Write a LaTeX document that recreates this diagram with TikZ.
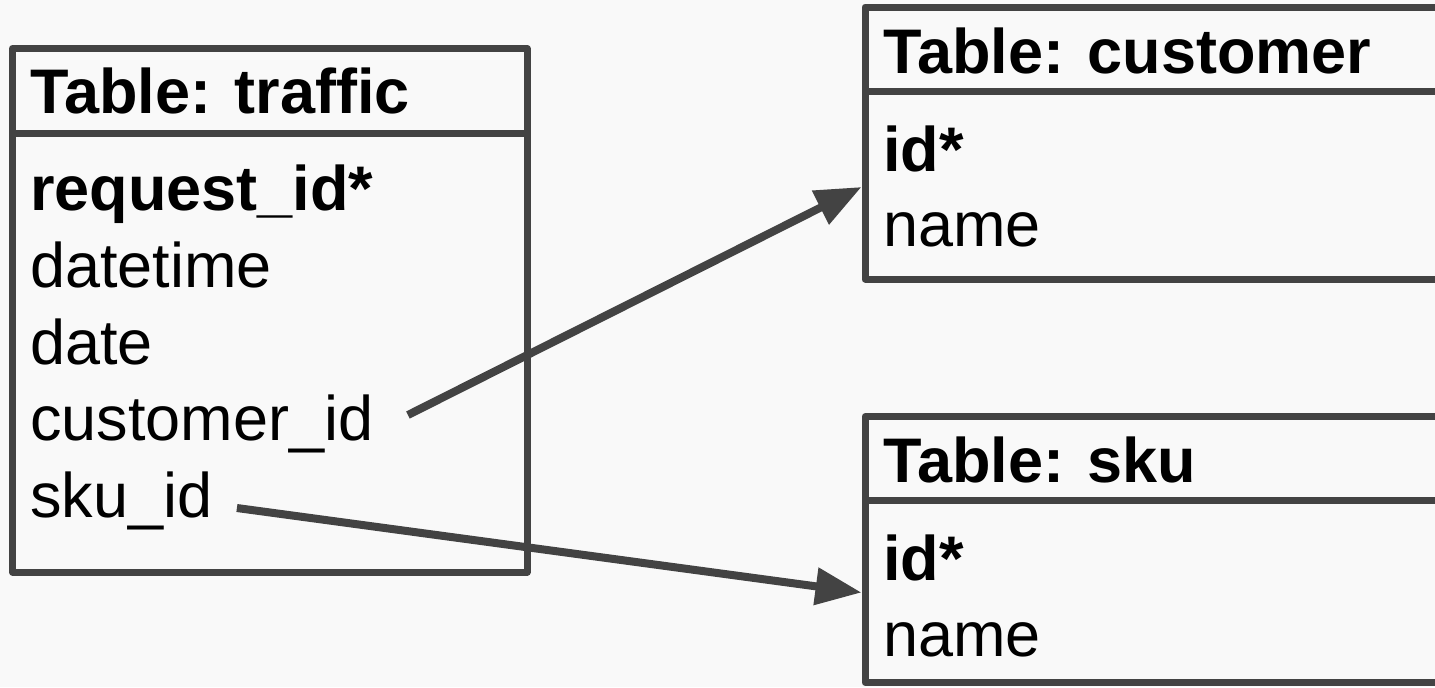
\documentclass[tikz,border=0pt]{standalone}
\usepackage{fontspec}
\setmainfont{Liberation Sans}
\usetikzlibrary{arrows.meta,calc,fit}
\definecolor{bg}{HTML}{F9F9F9}
\definecolor{edge}{HTML}{434343}
\begin{document}
\begin{tikzpicture}[x=0.5pt,y=-0.5pt,
  tablebox/.style={draw=edge, line width=3.5pt, fill=bg, rectangle, inner sep=0pt, outer sep=0pt, line join=round},
  divider/.style={draw=edge, line width=3.5pt},
  hdr/.style={anchor=base west, inner sep=0pt, font=\fontsize{31.5}{38.5}\selectfont\bfseries},
  field/.style={anchor=base west, inner sep=0pt, font=\fontsize{31.5}{38.5}\selectfont},
  keyfield/.style={anchor=base west, inner sep=0pt, font=\fontsize{31.5}{38.5}\selectfont\bfseries},
  link/.style={draw=edge, line width=4pt, -{Triangle[length=23pt,width=18pt]}}
]
\useasboundingbox (0,0) rectangle (1435,687);
\fill[bg] (0,0) rectangle (1435,687);
\clip (0,0) rectangle (1435,687);

% Table: traffic
\node[tablebox, fit={(12.5,48.5) (527,572)}] (traffic) {};
\draw[divider] (traffic.west |- 0,133) -- (traffic.east |- 0,133);
\node[hdr] (thead) at (30,113) {Table: traffic};
\node[keyfield] (rid) at (30,210) {request\_id*};
\node[field] (dt) at (30,287) {datetime};
\node[field] (dd) at (30,364) {date};
\node[field] (cid) at (30,440) {customer\_id};
\node[field] (sid) at (30,517) {sku\_id};

% Table: customer
\node[tablebox, fit={(865,7) (1480,279)}] (cust) {};
\draw[divider] (cust.west |- 0,91.5) -- (cust.east |- 0,91.5);
\node[hdr] (chead) at (883,73) {Table: customer};
\node[keyfield] (cidk) at (883,171) {id*};
\node[field] (cname) at (883,246) {name};

% Table: sku
\node[tablebox, fit={(865,416.5) (1480,682.5)}] (sku) {};
\draw[divider] (sku.west |- 0,500.5) -- (sku.east |- 0,500.5);
\node[hdr] (shead) at (883,482) {Table: sku};
\node[keyfield] (sidk) at (883,580) {id*};
\node[field] (sname) at (883,656) {name};

% links
\coordinate (c1) at ($(cid.base east)+(34,-25)$);
\coordinate (c2) at ($(sid.base east)+(24,-9)$);
\draw[link] (c1) -- ($(cust.west)+(-3.5,44)$);
\draw[link] (c2) -- ($(sku.west)+(-3.5,43)$);
\end{tikzpicture}
\end{document}
